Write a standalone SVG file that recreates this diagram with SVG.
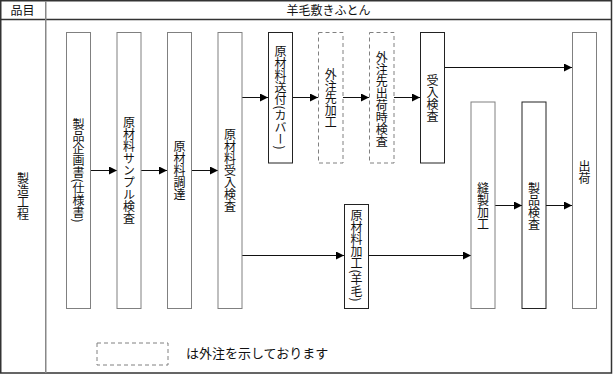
<svg xmlns="http://www.w3.org/2000/svg" width="613" height="374" viewBox="0 0 613 374">
<defs>
<style>
.frame{fill:none;stroke:#333;stroke-width:1.5}
.div{fill:none;stroke:#888;stroke-width:1.5}
.bg{fill:#fff;stroke:#808080;stroke-width:1}
.bd{fill:#fff;stroke:#222;stroke-width:1}
.bx{fill:#fff;stroke:#808080;stroke-width:1;stroke-dasharray:4 3}
.t{font-family:"Noto Sans CJK JP","Noto Sans",sans-serif;font-size:12px;fill:#111}
.v{font-family:"Noto Sans CJK JP","Noto Sans",sans-serif;font-size:12px;fill:#111;writing-mode:vertical-rl;text-anchor:middle}
.c{fill:none;stroke:#111;stroke-width:1}
</style>
<marker id="ah" viewBox="0 0 10 10" refX="10" refY="5" markerWidth="8" markerHeight="8" markerUnits="userSpaceOnUse" orient="auto">
<path d="M0,0 L10,5 L0,10 z" fill="#000"/>
</marker>
</defs>
<rect x="0" y="0" width="613" height="374" fill="#fff"/>
<g id="table">
<rect class="frame" x="0.75" y="0.75" width="610.75" height="372.25"/>
<line class="frame" x1="0" y1="19.5" x2="612" y2="19.5"/>
<line class="div" x1="45.75" y1="1" x2="45.75" y2="373"/>
<text class="t" x="22.5" y="15" text-anchor="middle">品目</text>
<text class="t" x="328.5" y="15" text-anchor="middle">羊毛敷きふとん</text>
<text class="v" x="23" y="196">製造工程</text>
</g>
<g id="connectors">
<line class="c" x1="91" y1="170.5" x2="117" y2="170.5" marker-end="url(#ah)"/>
<line class="c" x1="141" y1="170.5" x2="167" y2="170.5" marker-end="url(#ah)"/>
<line class="c" x1="192" y1="170.5" x2="218" y2="170.5" marker-end="url(#ah)"/>
<line class="c" x1="242" y1="97.5" x2="268" y2="97.5" marker-end="url(#ah)"/>
<line class="c" x1="292" y1="97.5" x2="318" y2="97.5" marker-end="url(#ah)"/>
<line class="c" x1="343" y1="97.5" x2="369" y2="97.5" marker-end="url(#ah)"/>
<line class="c" x1="394" y1="97.5" x2="420" y2="97.5" marker-end="url(#ah)"/>
<line class="c" x1="444" y1="67.5" x2="572" y2="67.5" marker-end="url(#ah)"/>
<line class="c" x1="242" y1="255.5" x2="344" y2="255.5" marker-end="url(#ah)"/>
<line class="c" x1="368" y1="255.5" x2="471" y2="255.5" marker-end="url(#ah)"/>
<line class="c" x1="495" y1="205.5" x2="522" y2="205.5" marker-end="url(#ah)"/>
<line class="c" x1="546" y1="205.5" x2="572" y2="205.5" marker-end="url(#ah)"/>
</g>
<g id="n1"><rect class="bg" x="66.5" y="32.5" width="24" height="276"/><text class="v" x="78.5" y="170.5">製品企画書(仕様書)</text></g>
<g id="n2"><rect class="bg" x="117" y="32.5" width="24" height="276"/><text class="v" x="129" y="170.5">原材料サンプル検査</text></g>
<g id="n3"><rect class="bg" x="167.5" y="32.5" width="24" height="276"/><text class="v" x="179.5" y="170.5">原材料調達</text></g>
<g id="n4"><rect class="bg" x="218" y="32.5" width="24" height="276"/><text class="v" x="230" y="170.5">原材料受入検査</text></g>
<g id="n5"><rect class="bd" x="268.5" y="32.5" width="24" height="130.5"/><text class="v" x="280.5" y="97.5">原材料送付(カバー)</text></g>
<g id="n6"><rect class="bx" x="318.5" y="32.5" width="24.5" height="130.5"/><text class="v" x="330.75" y="98">外注先加工</text></g>
<g id="n7"><rect class="bx" x="369.5" y="32.5" width="24.5" height="130.5"/><text class="v" x="381.75" y="99">外注先出荷時検査</text></g>
<g id="n8"><rect class="bd" x="420.5" y="32.5" width="24" height="130.5"/><text class="v" x="432.5" y="98">受入検査</text></g>
<g id="n9"><rect class="bd" x="344.5" y="204.5" width="24" height="104"/><text class="v" x="356.5" y="255.5">原材料加工(羊毛)</text></g>
<g id="n10"><rect class="bg" x="471" y="102" width="24" height="206.5"/><text class="v" x="483" y="206">縫製加工</text></g>
<g id="n11"><rect class="bd" x="522" y="102" width="24" height="206.5"/><text class="v" x="534" y="206">製品検査</text></g>
<g id="n12"><rect class="bg" x="572.5" y="32.5" width="24" height="276"/><text class="v" x="584.5" y="172">出荷</text></g>
<g id="legend">
<rect class="bx" x="97" y="343" width="71" height="22"/>
<text class="t" x="186" y="358" style="font-size:13px">は外注を示しております</text>
</g>
</svg>
